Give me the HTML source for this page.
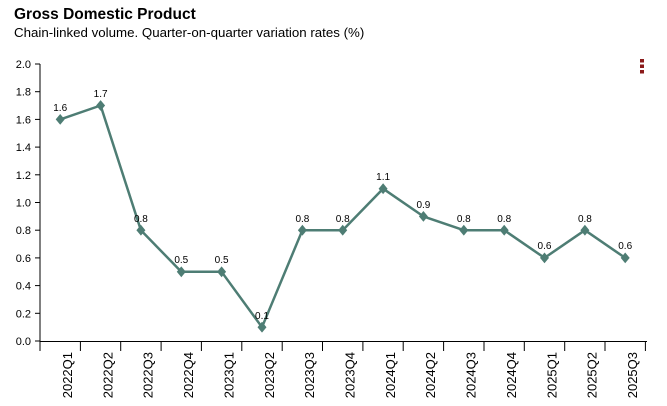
<!DOCTYPE html>
<html><head><meta charset="utf-8"><style>
html,body{margin:0;padding:0;background:#fff;}
svg{display:block;font-family:"Liberation Sans",Arial,sans-serif;}
</style></head><body>
<svg width="667" height="406" viewBox="0 0 667 406" xmlns="http://www.w3.org/2000/svg">
<text x="14" y="19" font-size="15.5" font-weight="bold" fill="#000">Gross Domestic Product</text>
<text x="14" y="37" font-size="13.3" fill="#000">Chain-linked volume. Quarter-on-quarter variation rates (%)</text>
<rect x="640" y="59" width="4" height="3.5" fill="#8b1a1a"/>
<rect x="640" y="64.5" width="4" height="3.5" fill="#8b1a1a"/>
<rect x="640" y="70" width="4" height="3.5" fill="#8b1a1a"/>
<g stroke="#000" stroke-width="1" fill="none">
<line x1="40" y1="64" x2="40" y2="341.5"/>
<line x1="40" y1="341.5" x2="647" y2="341.5"/>
<line x1="35" y1="64" x2="40" y2="64"/><line x1="35" y1="91.7" x2="40" y2="91.7"/><line x1="35" y1="119.4" x2="40" y2="119.4"/><line x1="35" y1="147.1" x2="40" y2="147.1"/><line x1="35" y1="174.8" x2="40" y2="174.8"/><line x1="35" y1="202.5" x2="40" y2="202.5"/><line x1="35" y1="230.2" x2="40" y2="230.2"/><line x1="35" y1="257.9" x2="40" y2="257.9"/><line x1="35" y1="285.6" x2="40" y2="285.6"/><line x1="35" y1="313.3" x2="40" y2="313.3"/><line x1="35" y1="341" x2="40" y2="341"/>
<line x1="40" y1="341" x2="40" y2="351"/><line x1="80.4" y1="341" x2="80.4" y2="351"/><line x1="120.7" y1="341" x2="120.7" y2="351"/><line x1="161.1" y1="341" x2="161.1" y2="351"/><line x1="201.4" y1="341" x2="201.4" y2="351"/><line x1="241.8" y1="341" x2="241.8" y2="351"/><line x1="282.2" y1="341" x2="282.2" y2="351"/><line x1="322.5" y1="341" x2="322.5" y2="351"/><line x1="362.9" y1="341" x2="362.9" y2="351"/><line x1="403.2" y1="341" x2="403.2" y2="351"/><line x1="443.6" y1="341" x2="443.6" y2="351"/><line x1="484" y1="341" x2="484" y2="351"/><line x1="524.3" y1="341" x2="524.3" y2="351"/><line x1="564.7" y1="341" x2="564.7" y2="351"/><line x1="605" y1="341" x2="605" y2="351"/><line x1="645.4" y1="341" x2="645.4" y2="351"/>
</g>
<g font-size="11" fill="#000" text-anchor="end">
<text x="31" y="68">2.0</text><text x="31" y="95.7">1.8</text><text x="31" y="123.4">1.6</text><text x="31" y="151.1">1.4</text><text x="31" y="178.8">1.2</text><text x="31" y="206.5">1.0</text><text x="31" y="234.2">0.8</text><text x="31" y="261.9">0.6</text><text x="31" y="289.6">0.4</text><text x="31" y="317.3">0.2</text><text x="31" y="345">0.0</text>
</g>
<g font-size="13" fill="#000" text-anchor="end">
<text transform="translate(72,352) rotate(-90)">2022Q1</text>
<text transform="translate(112.4,352) rotate(-90)">2022Q2</text>
<text transform="translate(152.7,352) rotate(-90)">2022Q3</text>
<text transform="translate(193.1,352) rotate(-90)">2022Q4</text>
<text transform="translate(233.4,352) rotate(-90)">2023Q1</text>
<text transform="translate(273.8,352) rotate(-90)">2023Q2</text>
<text transform="translate(314.2,352) rotate(-90)">2023Q3</text>
<text transform="translate(354.5,352) rotate(-90)">2023Q4</text>
<text transform="translate(394.9,352) rotate(-90)">2024Q1</text>
<text transform="translate(435.2,352) rotate(-90)">2024Q2</text>
<text transform="translate(475.6,352) rotate(-90)">2024Q3</text>
<text transform="translate(516,352) rotate(-90)">2024Q4</text>
<text transform="translate(556.3,352) rotate(-90)">2025Q1</text>
<text transform="translate(596.7,352) rotate(-90)">2025Q2</text>
<text transform="translate(637,352) rotate(-90)">2025Q3</text>
</g>
<polyline fill="none" stroke="#4e7d74" stroke-width="2.5" stroke-linejoin="round" points="60.2,119.4 100.6,105.5 140.9,230.2 181.3,271.8 221.6,271.8 262,327.2 302.4,230.2 342.7,230.2 383.1,188.7 423.4,216.4 463.8,230.2 504.2,230.2 544.5,257.9 584.9,230.2 625.2,257.9"/>
<g fill="#4e7d74">
<path d="M60.2,114 l4.5,5.4 l-4.5,5.4 l-4.5,-5.4z"/>
<path d="M100.6,100.1 l4.5,5.4 l-4.5,5.4 l-4.5,-5.4z"/>
<path d="M140.9,224.8 l4.5,5.4 l-4.5,5.4 l-4.5,-5.4z"/>
<path d="M181.3,266.4 l4.5,5.4 l-4.5,5.4 l-4.5,-5.4z"/>
<path d="M221.6,266.4 l4.5,5.4 l-4.5,5.4 l-4.5,-5.4z"/>
<path d="M262,321.8 l4.5,5.4 l-4.5,5.4 l-4.5,-5.4z"/>
<path d="M302.4,224.8 l4.5,5.4 l-4.5,5.4 l-4.5,-5.4z"/>
<path d="M342.7,224.8 l4.5,5.4 l-4.5,5.4 l-4.5,-5.4z"/>
<path d="M383.1,183.3 l4.5,5.4 l-4.5,5.4 l-4.5,-5.4z"/>
<path d="M423.4,211 l4.5,5.4 l-4.5,5.4 l-4.5,-5.4z"/>
<path d="M463.8,224.8 l4.5,5.4 l-4.5,5.4 l-4.5,-5.4z"/>
<path d="M504.2,224.8 l4.5,5.4 l-4.5,5.4 l-4.5,-5.4z"/>
<path d="M544.5,252.5 l4.5,5.4 l-4.5,5.4 l-4.5,-5.4z"/>
<path d="M584.9,224.8 l4.5,5.4 l-4.5,5.4 l-4.5,-5.4z"/>
<path d="M625.2,252.5 l4.5,5.4 l-4.5,5.4 l-4.5,-5.4z"/>
</g>
<g font-size="10" fill="#000" text-anchor="middle">
<text x="60.2" y="111">1.6</text>
<text x="100.6" y="97">1.7</text>
<text x="140.9" y="222">0.8</text>
<text x="181.3" y="263">0.5</text>
<text x="221.6" y="263">0.5</text>
<text x="262" y="319">0.1</text>
<text x="302.4" y="222">0.8</text>
<text x="342.7" y="222">0.8</text>
<text x="383.1" y="180">1.1</text>
<text x="423.4" y="208">0.9</text>
<text x="463.8" y="222">0.8</text>
<text x="504.2" y="222">0.8</text>
<text x="544.5" y="249">0.6</text>
<text x="584.9" y="222">0.8</text>
<text x="625.2" y="249">0.6</text>
</g>
</svg>
</body></html>
